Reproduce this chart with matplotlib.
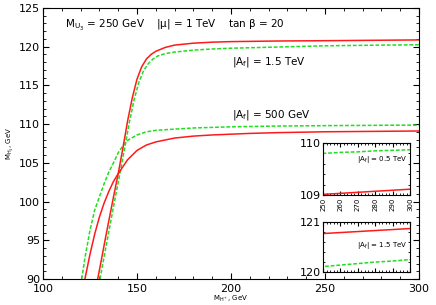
import matplotlib.pyplot as plt
from matplotlib.ticker import MultipleLocator

# curves: M_H+ (GeV) -> M_H1 (GeV)
x_red_500 = [122.3, 125, 127.5, 130, 132.5, 135, 137.5, 140, 145, 150, 155, 160, 170, 180,
             190, 200, 210, 225, 250, 260, 270, 280, 290, 300]
y_red_500 = [90.0, 93.2, 95.8, 98.0, 99.8, 101.3, 102.6, 103.6, 105.4, 106.6, 107.3, 107.7,
             108.2, 108.45, 108.6, 108.7, 108.8, 108.9, 109.01, 109.03, 109.05, 109.07, 109.09, 109.11]

x_green_500 = [120.6, 122.5, 125, 127.5, 130, 132.5, 135, 137.5, 140, 142.5, 145, 150, 155, 160,
               170, 180, 200, 225, 250, 260, 270, 280, 290, 300]
y_green_500 = [90.0, 93.0, 96.3, 98.9, 100.6, 102.3, 103.8, 105.0, 106.3, 107.2, 107.9, 108.6,
               109.0, 109.2, 109.35, 109.5, 109.65, 109.75, 109.8, 109.82, 109.83, 109.85, 109.86, 109.87]

x_red_15 = [129.1, 131, 133, 135, 137.5, 140, 142.5, 145, 147.5, 150, 152.5, 155, 157.5, 160,
            165, 170, 180, 190, 200, 225, 250, 260, 270, 280, 290, 300]
y_red_15 = [90.0, 92.4, 95.0, 97.5, 100.6, 103.6, 106.9, 110.4, 113.4, 115.8, 117.4, 118.4, 119.0,
            119.4, 119.9, 120.2, 120.45, 120.58, 120.65, 120.73, 120.77, 120.79, 120.81, 120.83,
            120.85, 120.87]

x_green_15 = [130.3, 132, 134, 136, 138.5, 141, 143.5, 146, 148.5, 151, 153.5, 156, 158.5, 161,
              165, 170, 180, 190, 200, 225, 250, 260, 270, 280, 290, 300]
y_green_15 = [90.0, 92.2, 94.8, 97.4, 100.6, 103.7, 107.0, 110.3, 113.2, 115.4, 116.9, 117.8, 118.4,
              118.8, 119.1, 119.3, 119.55, 119.7, 119.8, 119.95, 120.11, 120.14, 120.17, 120.2,
              120.22, 120.25]

RED = '#ff1a1a'
GREEN = '#22dd22'
dash = (0, (2.5, 1.2))

fig = plt.figure(figsize=(4.36, 3.05), dpi=100)
ax = fig.add_axes([0.0986, 0.0852, 0.8624, 0.8888])


def draw_curves(a):
    a.plot(x_green_15, y_green_15, color=GREEN, lw=1.1, linestyle=dash)
    a.plot(x_green_500, y_green_500, color=GREEN, lw=1.1, linestyle=dash)
    a.plot(x_red_15, y_red_15, color=RED, lw=1.1)
    a.plot(x_red_500, y_red_500, color=RED, lw=1.1)


draw_curves(ax)
ax.set_xlim(100, 300)
ax.set_ylim(90, 125)
ax.xaxis.set_major_locator(MultipleLocator(50))
ax.xaxis.set_minor_locator(MultipleLocator(10))
ax.yaxis.set_major_locator(MultipleLocator(5))
ax.yaxis.set_minor_locator(MultipleLocator(1))
ax.tick_params(which='both', direction='in', top=True, right=True, labelsize=8)
ax.tick_params(axis='x', pad=3.5)
ax.tick_params(axis='y', pad=2)
ax.tick_params(which='major', length=4)
ax.tick_params(which='minor', length=2)

ax.text(0.058, 0.925, r'$\mathregular{M_{U_3}}$ = 250 GeV    |μ| = 1 TeV    tan β = 20',
        transform=ax.transAxes, fontsize=7.5)
ax.text(200.5, 118.0, r'|$\mathregular{A_f}$| = 1.5 TeV', fontsize=7.5, va='center')
ax.text(200.5, 111.2, r'|$\mathregular{A_f}$| = 500 GeV', fontsize=7.5, va='center')

ax.set_ylabel(r'$\mathregular{M_{H_1}}$, GeV', fontsize=5, labelpad=2)
ax.set_xlabel(r'$\mathregular{M_{H^+}}$, GeV', fontsize=5, labelpad=0)

# insets
ins1 = fig.add_axes([0.741, 0.361, 0.1995, 0.170])
ins2 = fig.add_axes([0.741, 0.108, 0.1995, 0.164])
for a, lo, lab, ty in [(ins1, 109, '0.5', 0.68), (ins2, 120, '1.5', 0.54)]:
    draw_curves(a)
    a.set_xlim(250, 300)
    a.set_ylim(lo, lo + 1)
    a.set_yticks([lo, lo + 1])
    a.yaxis.set_minor_locator(MultipleLocator(0.2))
    a.xaxis.set_major_locator(MultipleLocator(10))
    a.xaxis.set_minor_locator(MultipleLocator(2))
    a.tick_params(which='both', direction='in', top=True, right=True, labelsize=8, pad=1.5)
    a.tick_params(which='major', length=3)
    a.tick_params(which='minor', length=1.5)
    a.text(0.97, ty, r'|$\mathregular{A_f}$| = ' + lab + ' TeV', transform=a.transAxes,
           fontsize=5, ha='right', va='center')
    for s in a.spines.values():
        s.set_linewidth(0.8)

ins1.tick_params(axis='x', labelsize=5, labelrotation=90, pad=2)
ins2.tick_params(axis='x', labelbottom=False)

plt.savefig('out.png', dpi=100)
